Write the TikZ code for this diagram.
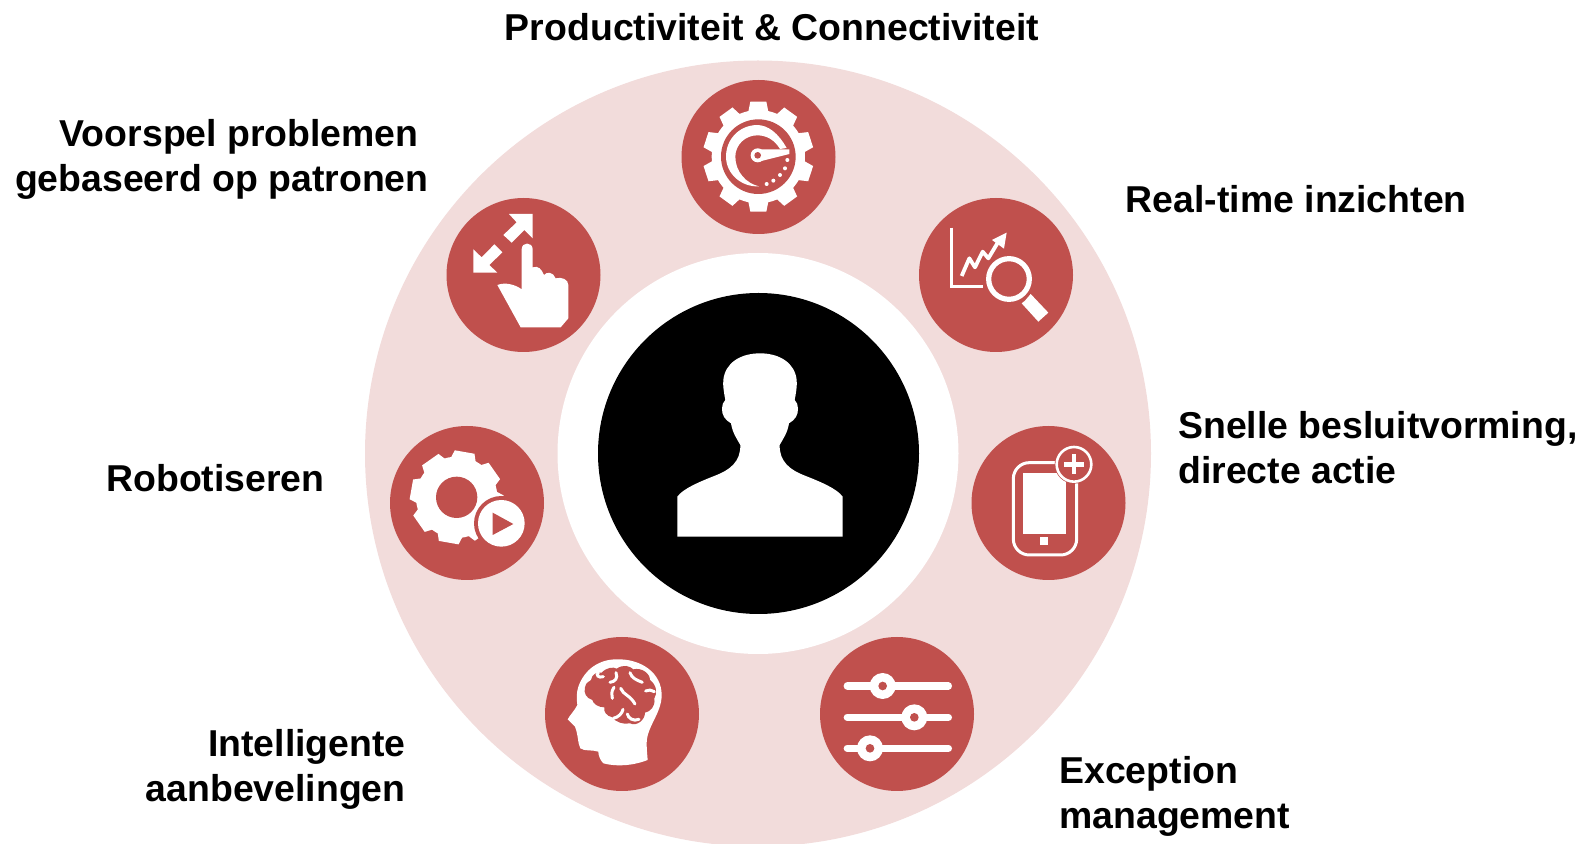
\documentclass[tikz,border=0pt]{standalone}
\usepackage{fontspec}
\setmainfont{Liberation Sans}
\definecolor{iconred}{HTML}{C0504D}
\definecolor{ringpink}{HTML}{F2DCDB}
\tikzset{
	disc/.style={circle, inner sep=0pt, minimum size=#1*0.5pt},
	reddisc/.style={disc=154, fill=iconred},
	caption/.style={inner sep=0pt, font=\fontsize{18.7}{22.5}\selectfont\bfseries},
	iconbox/.style={shift={#1}, scale=1/3}
}
\begin{document}
\begin{tikzpicture}[x=0.5pt, y=0.5pt, yscale=-1]
	\useasboundingbox (0,0) rectangle (1587,844);
	\node[disc=786, fill=ringpink] (ring) at (758,453.5) {};
	\node[disc=401, fill=white] (hole) at (758,453.5) {};
	\node[disc=321, fill=black] (center) at (758.5,453.5) {};

	\node[reddisc] (gauge) at (758.5,157) {};
	\node[reddisc] (chart) at (996,275) {};
	\node[reddisc] (phone) at (1048.5,503) {};
	\node[reddisc] (sliders) at (897,714) {};
	\node[reddisc] (brain) at (622,714) {};
	\node[reddisc] (robot) at (467,503) {};
	\node[reddisc] (hand) at (523.5,275) {};

	\node[caption] (tproductivity) at (772,27.5) {Productiviteit \& Connectiviteit};
	\node[caption, anchor=east, align=right] (tpredict) at (429,159) {Voorspel problemen\hspace*{5pt}\\gebaseerd op patronen};
	\node[caption, anchor=west] (trealtime) at (1125.5,199) {Real-time inzichten};
	\node[caption, anchor=west, align=left] (tdecide) at (1178,448) {Snelle besluitvorming,\\directe actie};
	\node[caption, anchor=east] (trobot) at (325,478) {Robotiseren};
	\node[caption, anchor=east, align=right] (tadvice) at (406,769) {Intelligente\\aanbevelingen};
	\node[caption, anchor=west, align=left] (texception) at (1059,796.5) {Exception\\management};

	\begin{scope}[iconbox={(650,330)}]
		\fill[white] (82,620) -- (82,500) .. controls (100,475) and (150,455) .. (195,437)
			.. controls (240,420) and (272,395) .. (271,345) .. controls (260,325) and (248,310) .. (243,280)
			.. controls (225,270) and (215,255) .. (216,235) .. controls (216,225) and (220,215) .. (226,210)
			.. controls (222,190) and (218,165) .. (220,150) .. controls (225,100) and (270,70) .. (330,70)
			.. controls (390,70) and (435,100) .. (440,150) .. controls (442,165) and (438,190) .. (434,210)
			.. controls (440,215) and (444,225) .. (444,235) .. controls (445,255) and (435,270) .. (417,280)
			.. controls (412,310) and (400,325) .. (389,345) .. controls (388,395) and (420,420) .. (465,437)
			.. controls (510,455) and (560,475) .. (578,500) -- (578,620) -- cycle;
	\end{scope}

	\begin{scope}[iconbox={(670,70)}]
		\foreach \a in {0,36,...,324}
			\fill[white, rotate around={\a:(265,260)}] (241,95) -- (289,95) -- (297,135) -- (233,135) -- cycle;
		\fill[white] (265,260) circle (140);
		\fill[iconred] (265,260) circle (112);
		\fill[white] (350,234) .. controls (325,190) and (295,165) .. (260,165) .. controls (205,167) and (168,210) .. (168,260)
			.. controls (168,312) and (215,352) .. (267,349) .. controls (228,340) and (196,305) .. (196,260)
			.. controls (196,225) and (225,196) .. (262,196) .. controls (292,196) and (315,212) .. (330,237) -- cycle;
		\fill[white] (270,238) -- (358,238) -- (358,252) -- (270,274) -- cycle;
		\fill[white] (263,256) circle (21);
		\fill[iconred] (263,256) circle (10);
		\foreach \p in {(352,270),(345,295),(330,315),(310,332),(290,342)}
			\fill[white] \p circle (6);
	\end{scope}

	\begin{scope}[iconbox={(910,190)}]
		\draw[white, line width=1.5pt] (125,113) -- (125,291) -- (218,291);
		\draw[white, line width=1.9pt, line join=round] (155,258) -- (178,205) -- (195,232) -- (218,185) -- (235,205) -- (265,155);
		\fill[white] (246,150) -- (290,128) -- (282,176) -- cycle;
		\fill[iconred] (297,267) circle (74);
		\draw[white, line width=2.6pt] (297,267) circle (61);
		\fill[white] (362,312) -- (415,368) -- (385,395) -- (335,340) -- (345,332) -- cycle;
	\end{scope}

	\begin{scope}[iconbox={(960,420)}]
		\draw[white, line width=1.5pt, rounded corners=8pt] (160,128) rectangle (350,405);
		\fill[white] (190,160) rectangle (318,342);
		\fill[white] (240,350) rectangle (265,375);
		\fill[iconred] (342,133) circle (58);
		\draw[white, line width=1.3pt] (342,133) circle (52);
		\fill[white] (312,126) rectangle (372,140);
		\fill[white] (335,103) rectangle (349,163);
	\end{scope}

	\begin{scope}[iconbox={(810,630)}]
		\foreach \y/\k in {168/218,262/313,355/180}{
			\draw[white, line width=3.7pt, line cap=round] (112,\y) -- (415,\y);
			\fill[white] (\k,\y) circle (39);
			\fill[iconred] (\k,\y) circle (13);
		}
	\end{scope}

	\begin{scope}[iconbox={(535,630)}]
		\fill[white] (98,268) .. controls (105,255) and (120,240) .. (127,225) .. controls (124,205) and (125,185) .. (130,170)
			.. controls (150,115) and (195,88) .. (245,88) .. controls (320,86) and (380,130) .. (380,195)
			.. controls (380,250) and (335,290) .. (335,340) .. controls (335,360) and (337,375) .. (338,390)
			.. controls (300,405) and (250,412) .. (205,400) .. controls (195,390) and (190,375) .. (190,365)
			.. controls (170,358) and (150,365) .. (136,355) .. controls (128,340) and (130,315) .. (120,290) -- cycle;
		\fill[iconred] (150,172) .. controls (152,155) and (165,155) .. (168,150) .. controls (170,132) and (188,125) .. (200,128)
			.. controls (215,112) and (235,110) .. (245,116) .. controls (265,102) and (285,108) .. (295,118)
			.. controls (320,112) and (345,130) .. (345,150) .. controls (365,165) and (368,190) .. (358,205)
			.. controls (362,230) and (345,245) .. (330,248) .. controls (330,270) and (305,290) .. (285,280)
			.. controls (265,285) and (240,275) .. (232,262) .. controls (215,258) and (205,245) .. (208,232)
			.. controls (190,232) and (175,222) .. (172,210) .. controls (155,205) and (145,190) .. (150,172) -- cycle;
		\begin{scope}[white, line width=1.5pt, line cap=round]
			\draw (190,128) .. controls (182,135) and (190,145) .. (205,140);
			\draw (225,157) .. controls (240,155) and (250,145) .. (243,128);
			\draw (285,128) .. controls (290,145) and (305,150) .. (322,157);
			\draw (237,172) .. controls (228,185) and (230,195) .. (232,205);
			\draw (257,175) .. controls (265,195) and (285,195) .. (300,222);
			\draw (332,183) .. controls (340,178) and (350,180) .. (358,185);
			\draw (235,265) .. controls (250,262) and (262,250) .. (264,238);
			\draw (277,252) .. controls (280,265) and (295,275) .. (312,268);
		\end{scope}
	\end{scope}

	\begin{scope}[iconbox={(380,420)}]
		\foreach \a in {10,55,...,325}
			\fill[white, rotate around={\a:(230,232)}] (200,94) -- (260,94) -- (270,125) -- (190,125) -- cycle;
		\fill[white] (230,232) circle (122);
		\fill[iconred] (230,232) circle (62);
		\fill[iconred] (364,310) circle (82);
		\fill[white] (364,310) circle (70);
		\fill[iconred] (338,278) -- (338,345) -- (400,312) -- cycle;
	\end{scope}

	\begin{scope}[iconbox={(440,190)}]
		\fill[white] (207,72) -- (278,72) -- (278,145) -- (253,120) -- (215,158) -- (190,135) -- (230,97) -- cycle;
		\fill[white] (100,178) -- (100,248) -- (172,248) -- (148,225) -- (187,187) -- (163,163) -- (125,202) -- cycle;
		\fill[white] (245,178) .. controls (245,155) and (278,155) .. (278,178) -- (278,232)
			.. controls (295,226) and (305,238) .. (312,255) .. controls (320,244) and (340,246) .. (347,265)
			.. controls (365,260) and (385,268) .. (385,285) -- (385,385) -- (362,412) -- (242,412) -- (172,285)
			.. controls (195,276) and (225,283) .. (245,298) -- cycle;
	\end{scope}
\end{tikzpicture}
\end{document}
